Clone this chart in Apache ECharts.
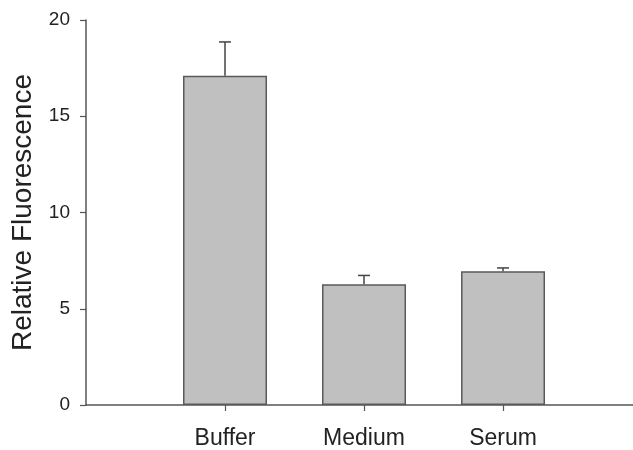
<!DOCTYPE html>
<html>
<head>
<meta charset="utf-8">
<script src="https://cdn.jsdelivr.net/npm/echarts@6/dist/echarts.min.js"></script>
<style>html,body{margin:0;padding:0;background:#fff}#c{width:633px;height:450px}</style>
</head>
<body>
<div id="c"></div>
<script>
const categories = ['Buffer', 'Medium', 'Serum'];
const values = [17.1, 6.27, 6.95];
const errors = [1.76, 0.46, 0.17];
const yTicks = [0, 5, 10, 15, 20];
const yTitle = 'Relative Fluorescence';

const positions = categories.map((c, i) => i + 1);
const barData = values.map((v, i) => [positions[i], v]);
const errData = values.map((v, i) => [positions[i], v, v + errors[i]]);

const chart = echarts.init(document.getElementById('c'), null, {renderer: 'canvas'});
const font = 'Liberation Sans, Arial, sans-serif';
chart.setOption({
  animation: false,
  grid: {left: 86, right: 0, top: 20, bottom: 43, containLabel: false},
  xAxis: {
    type: 'value', min: 0, max: 3.935, interval: 1,
    splitLine: {show: false},
    axisLine: {lineStyle: {color: '#555', width: 1.5}},
    axisTick: {show: true, length: 6, customValues: positions, lineStyle: {color: '#555', width: 1.2}},
    axisLabel: {customValues: positions, margin: 22, fontFamily: font, fontSize: 23, color: '#222',
      formatter: v => categories[Math.round(v) - 1] || ''}
  },
  yAxis: {
    type: 'value', min: 0, max: 20, interval: 5,
    name: yTitle, nameLocation: 'middle', nameGap: 49,
    nameTextStyle: {fontFamily: font, fontSize: 28, color: '#222'},
    splitLine: {show: false},
    axisLine: {show: true, lineStyle: {color: '#555', width: 1.5}},
    axisTick: {show: true, length: 6, lineStyle: {color: '#555', width: 1.2}},
    axisLabel: {margin: 16, fontFamily: font, fontSize: 19, color: '#222',
      formatter: v => yTicks.includes(v) ? String(v) : ''}
  },
  series: [
    {
      type: 'bar', data: barData, barWidth: 84,
      itemStyle: {color: '#c0c0c0', borderColor: '#5a5a5a', borderWidth: 1.5}
    },
    {
      type: 'custom', data: errData, z: 5,
      renderItem: function (params, api) {
        const x = api.value(0);
        const lo = api.coord([x, api.value(1)]);
        const hi = api.coord([x, api.value(2)]);
        const cap = 6;
        const st = {stroke: '#444', lineWidth: 1.5};
        return {type: 'group', children: [
          {type: 'line', shape: {x1: lo[0], y1: lo[1], x2: hi[0], y2: hi[1]}, style: st},
          {type: 'line', shape: {x1: hi[0] - cap, y1: hi[1], x2: hi[0] + cap, y2: hi[1]}, style: st}
        ]};
      }
    }
  ]
});
</script>
</body>
</html>
